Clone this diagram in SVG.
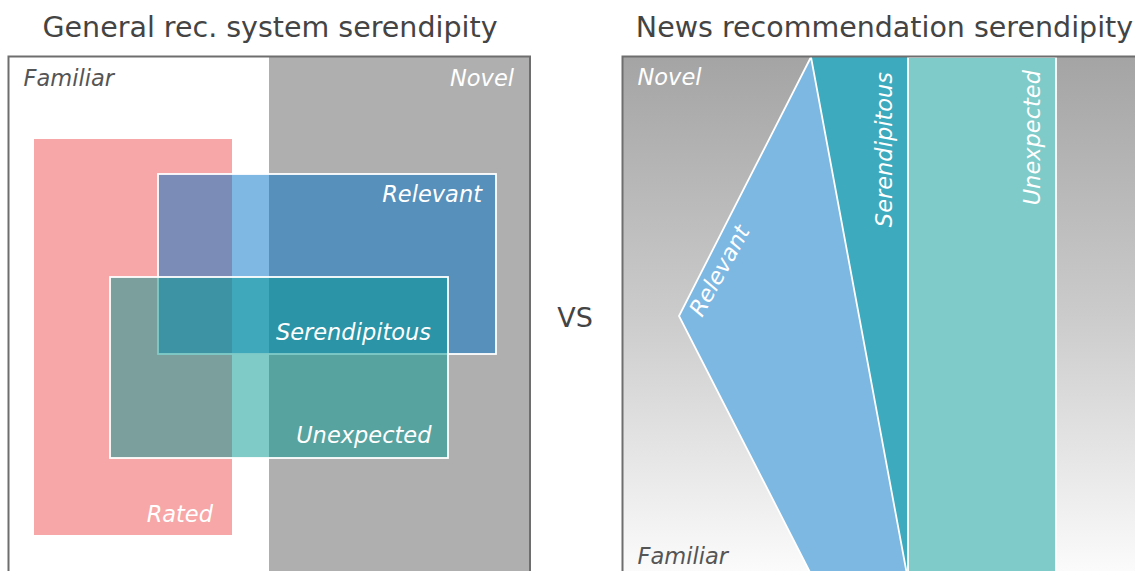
<svg xmlns="http://www.w3.org/2000/svg" width="1135" height="571" viewBox="0 0 1135 571">
<defs>
<linearGradient id="bgGrad" x1="0" y1="56" x2="0" y2="571" gradientUnits="userSpaceOnUse">
<stop offset="0" stop-color="#a4a4a4"/>
<stop offset="0.5" stop-color="#cbcbcb"/>
<stop offset="1" stop-color="#fbfbfb"/>
</linearGradient>
</defs>
<style>
.title{font-family:"DejaVu Sans","Liberation Sans",sans-serif;font-size:28.5px;fill:#444}
.lbl{font-family:"DejaVu Sans","Liberation Sans",sans-serif;font-size:22.5px;font-style:italic;fill:#fff}
.dark{fill:#555}
.frame{fill:none;stroke:#6e6e6e;stroke-width:2}
.ws{stroke:#fff;stroke-width:1.8}
</style>
<rect width="1135" height="571" fill="#fff"/>
<text class="title" x="270" y="36.5" text-anchor="middle">General rec. system serendipity</text>
<text class="title" x="884.5" y="36.5" text-anchor="middle">News recommendation serendipity</text>
<text class="title" x="575" y="327" text-anchor="middle" style="font-size:27px">VS</text>

<g id="left-panel">
<g id="left-novel-area"><rect x="269" y="57" width="261" height="523" fill="#afafaf"/></g>
<g id="left-rated"><rect x="34" y="139" width="198" height="396" fill="#f7a7a7"/></g>
<g id="left-relevant"><rect class="ws" x="158" y="174" width="338" height="180" fill="#0071c7" fill-opacity="0.5"/></g>
<g id="left-unexpected"><rect class="ws" x="110" y="277" width="338" height="181" fill="#009791" fill-opacity="0.5"/></g>
<rect class="frame" x="8.5" y="56.5" width="521.5" height="530"/>
<text class="lbl dark" x="23.5" y="85.5">Familiar</text>
<text class="lbl" x="514" y="85.5" text-anchor="end">Novel</text>
<text class="lbl" x="482" y="202" text-anchor="end">Relevant</text>
<text class="lbl" x="431" y="340" text-anchor="end">Serendipitous</text>
<text class="lbl" x="431.5" y="442.5" text-anchor="end">Unexpected</text>
<text class="lbl" x="213" y="522" text-anchor="end">Rated</text>
</g>

<g id="right-panel">
<rect x="623" y="57" width="520" height="523" fill="url(#bgGrad)"/>
<g id="right-serendipitous"><rect x="811" y="57" width="97" height="523" fill="#3eaabd"/></g>
<g id="right-unexpected"><rect class="ws" x="908" y="57" width="148" height="523" fill="#7ecbc9"/></g>
<g id="right-relevant"><polygon class="ws" points="811,57 679,316 814,580 908,580" fill="#7db8e3" stroke-linejoin="miter"/></g>
<rect class="frame" x="622.5" y="56.5" width="530" height="530"/>
<text class="lbl" x="637.5" y="85">Novel</text>
<text class="lbl dark" x="637.5" y="564">Familiar</text>
<text class="lbl" transform="translate(702,318) rotate(-61)">Relevant</text>
<text class="lbl" transform="translate(892,72) rotate(-90)" text-anchor="end">Serendipitous</text>
<text class="lbl" transform="translate(1040,70) rotate(-90)" text-anchor="end">Unexpected</text>
</g>
</svg>
